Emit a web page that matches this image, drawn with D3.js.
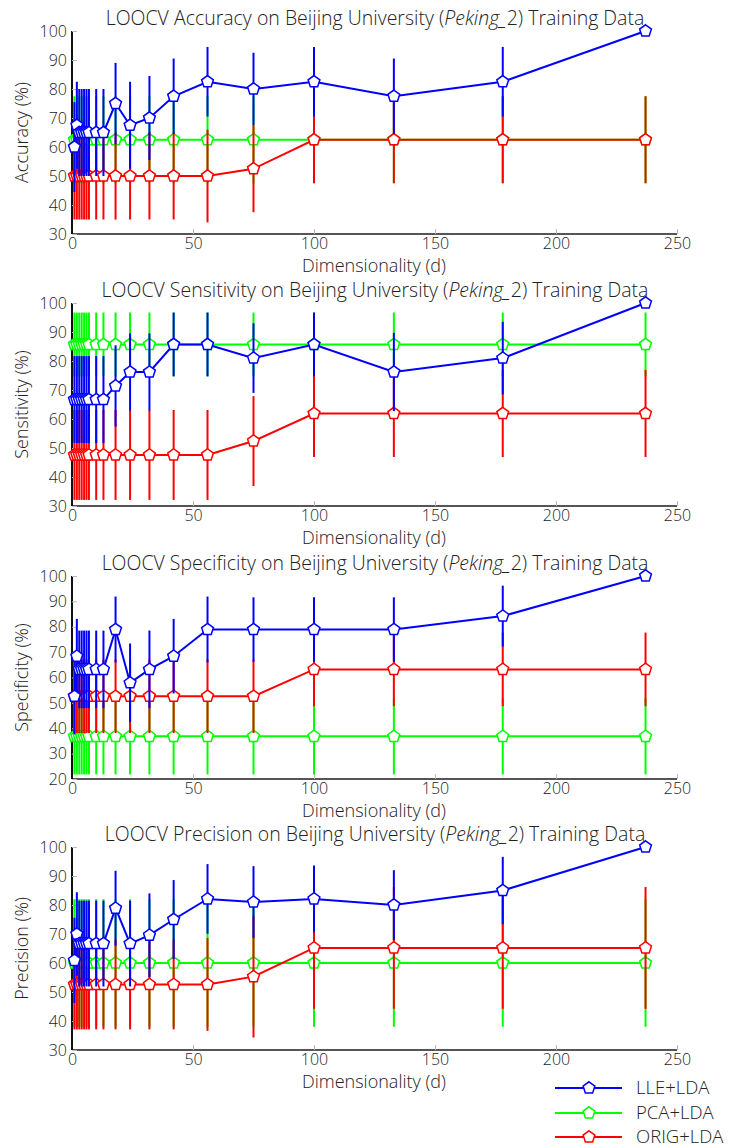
<!DOCTYPE html>
<html><head><meta charset="utf-8">
<script src="https://cdn.jsdelivr.net/npm/d3@7"></script>
<style>
body{margin:0;background:#fff;}
svg{display:block;font-family:"Open Sans","DejaVu Sans",sans-serif;}
</style></head><body>
<svg id="c" width="751" height="1148"></svg>
<script>
// ---------- data ----------
const dims = [1,2,3,4,5,6,7,10,13,18,24,32,42,56,75,100,133,178,237];
const xTicks = [0,50,100,150,200,250];
const seriesNames = ["LLE+LDA","PCA+LDA","ORIG+LDA"];

const accLLE   = [60,67.5,65,65,65,65,65,65,65,75,67.5,70,77.5,82.5,80,82.5,77.5,82.5,100];
const accLLEsd = [15.5,15,15,15,15,15,15,15,15,14,15,14.5,13,12,12.5,12,13,12,0];
const accPCA   = [62.5,62.5,62.5,62.5,62.5,62.5,62.5,62.5,62.5,62.5,62.5,62.5,62.5,62.5,62.5,62.5,62.5,62.5,62.5];
const accPCAsd = [15,15,15,15,15,15,15,15,15,15,15,15,15,15,15,15,15,15,15];
const accORIG  = [50,50,50,50,50,50,50,50,50,50,50,50,50,50,52.5,62.5,62.5,62.5,62.5];
const accORIGsd= [15,15,15,15,15,15,15,15,15,15,15,15,15,16,15,15,15,15,15];

const senLLE   = [66.7,66.7,66.7,66.7,66.7,66.7,66.7,66.7,66.7,71.4,76.2,76.2,85.7,85.7,81.0,85.7,76.2,81.0,100];
const senLLEsd = [15,15,15,15,15,15,15,15,15,14,13.3,13.3,11,11,12,11,13.5,12.5,0];
const senPCA   = [85.7,85.7,85.7,85.7,85.7,85.7,85.7,85.7,85.7,85.7,85.7,85.7,85.7,85.7,85.7,85.7,85.7,85.7,85.7];
const senPCAsd = [11,11,11,11,11,11,11,11,11,11,11,11,11,11,11,11,11,11,11];
const senORIG  = [47.6,47.6,47.6,47.6,47.6,47.6,47.6,47.6,47.6,47.6,47.6,47.6,47.6,47.6,52.4,61.9,61.9,61.9,61.9];
const senORIGsd= [15.5,15.5,15.5,15.5,15.5,15.5,15.5,15.5,15.5,15.5,15.5,15.5,15.5,15.5,15.5,15,15,15,15];

const speLLE   = [52.6,68.4,63.2,63.2,63.2,63.2,63.2,63.2,63.2,78.9,57.9,63.2,68.4,78.9,78.9,78.9,78.9,84.2,100];
const speLLEsd = [15,14.7,15.3,15.3,15.3,15.3,15.3,15.3,15.3,13,15.5,15.3,14.7,13,12.7,12.7,12.7,12,0];
const spePCA   = [36.8,36.8,36.8,36.8,36.8,36.8,36.8,36.8,36.8,36.8,36.8,36.8,36.8,36.8,36.8,36.8,36.8,36.8,36.8];
const spePCAsd = [15,15,15,15,15,15,15,15,15,15,15,15,15,15,15,15,15,15,15];
const speORIG  = [52.6,52.6,52.6,52.6,52.6,52.6,52.6,52.6,52.6,52.6,52.6,52.6,52.6,52.6,52.6,63.2,63.2,63.2,63.2];
const speORIGsd= [14.5,14.5,14.5,14.5,14.5,14.5,14.5,14.5,14.5,14.5,14.5,14.5,14.5,14.5,14.5,14.5,14.5,14.5,14.5];

const preLLE   = [60.9,70.0,66.7,66.7,66.7,66.7,66.7,66.7,66.7,78.9,66.7,69.6,75.0,82.1,81.0,82.1,80.0,85.0,100];
const preLLEsd = [14.7,14.4,14.8,14.8,14.8,14.8,14.8,14.8,14.8,12.9,14.8,14.4,13.6,12,12.4,11.5,12,11.6,0];
const prePCA   = [60,60,60,60,60,60,60,60,60,60,60,60,60,60,60,60,60,60,60];
const prePCAsd = [22,22,22,22,22,22,22,22,22,22,22,22,22,22,22,22,22,22,22];
const preORIG  = [52.6,52.6,52.6,52.6,52.6,52.6,52.6,52.6,52.6,52.6,52.6,52.6,52.6,52.6,55.3,65.2,65.2,65.2,65.2];
const preORIGsd= [15.5,15.5,15.5,15.5,15.5,15.5,15.5,15.5,15.5,15.5,15.5,15.5,15.5,16,21,21,21,21,21];

const yTicksA = [30,40,50,60,70,80,90,100];
const yTicksS = [20,30,40,50,60,70,80,90,100];

const metrics = [
  {name:"Accuracy",    ylabel:"Accuracy (%)",    yTicks:yTicksA, lle:accLLE, lleSd:accLLEsd, pca:accPCA, pcaSd:accPCAsd, orig:accORIG, origSd:accORIGsd},
  {name:"Sensitivity", ylabel:"Sensitivity (%)", yTicks:yTicksA, lle:senLLE, lleSd:senLLEsd, pca:senPCA, pcaSd:senPCAsd, orig:senORIG, origSd:senORIGsd},
  {name:"Specificity", ylabel:"Specificity (%)", yTicks:yTicksS, lle:speLLE, lleSd:speLLEsd, pca:spePCA, pcaSd:spePCAsd, orig:speORIG, origSd:speORIGsd},
  {name:"Precision",   ylabel:"Precision (%)",   yTicks:yTicksA, lle:preLLE, lleSd:preLLEsd, pca:prePCA, pcaSd:prePCAsd, orig:preORIG, origSd:preORIGsd}
];

// ---------- layout ----------
const colors = {lle:"#0000ff", pca:"#00ff00", orig:"#ff0000"};
const panelTops = [31, 303, 576, 847];
const panelH = 203;
const xLeft = 72, xRight = 677;
const font = '"Open Sans","DejaVu Sans",sans-serif';

const svg = d3.select("#c");
const x = d3.scaleLinear().domain([0,250]).range([xLeft,xRight]);

function pentagon(r){
  const pts = d3.range(5).map(k=>{
    const a = -Math.PI/2 + k*2*Math.PI/5;
    return [r*Math.cos(a), r*Math.sin(a)];
  });
  return "M"+pts.map(p=>p.join(",")).join("L")+"Z";
}
const pent = pentagon(6.2);

metrics.forEach((m,i)=>{
  const top = panelTops[i], bot = top+panelH;
  const y = d3.scaleLinear().domain(d3.extent(m.yTicks)).range([bot,top]);
  const g = svg.append("g");

  // title
  const t = g.append("text").attr("x",375).attr("y",top-6).attr("text-anchor","middle")
    .attr("font-size",19.5).attr("font-weight",300).attr("fill","#222");
  t.append("tspan").text(`LOOCV ${m.name} on Beijing University (`);
  t.append("tspan").attr("font-style","italic").text("Peking_");
  t.append("tspan").text("2) Training Data");

  // axes
  const xa = d3.axisBottom(x).tickValues(xTicks).tickSize(-5).tickPadding(4).tickFormat(d3.format("d"));
  const gx = g.append("g").attr("transform",`translate(0,${bot})`).call(xa);
  gx.select(".domain").attr("stroke","#555").attr("stroke-width",2).attr("d",`M${xLeft},0H${xRight}`);
  gx.selectAll(".tick line").attr("stroke","#bbb").attr("stroke-width",1);
  gx.selectAll(".tick text").attr("font-size",16).attr("font-family",font).attr("font-weight",300).attr("fill","#222");

  const ya = d3.axisLeft(y).tickValues(m.yTicks).tickSize(-5).tickPadding(5).tickFormat(d3.format("d"));
  const gy = g.append("g").attr("transform",`translate(${xLeft},0)`).call(ya);
  gy.select(".domain").attr("stroke","#111").attr("stroke-width",2).attr("d",`M0,${top}V${bot}`);
  gy.selectAll(".tick line").attr("stroke","#bbb").attr("stroke-width",1);
  gy.selectAll(".tick text").attr("font-size",16).attr("font-family",font).attr("font-weight",300).attr("fill","#222");

  g.append("text").attr("x",374).attr("y",bot+38).attr("text-anchor","middle")
    .attr("font-size",18).attr("font-weight",300).attr("fill","#222").text("Dimensionality (d)");
  g.append("text").attr("transform",`translate(28,${(top+bot)/2}) rotate(-90)`).attr("text-anchor","middle")
    .attr("font-size",18).attr("font-weight",300).attr("fill","#222").text(m.ylabel);

  // series: drawn PCA, ORIG, LLE
  const order = [["pca",m.pca,m.pcaSd],["orig",m.orig,m.origSd],["lle",m.lle,m.lleSd]];
  order.forEach(([key,vals,sds])=>{
    const c = colors[key];
    const sg = g.append("g");
    sg.selectAll("line.eb").data(dims.map((d,j)=>({d,v:vals[j],s:sds[j]})).filter(o=>o.s>0))
      .join("line").attr("class","eb")
      .attr("x1",o=>x(o.d)).attr("x2",o=>x(o.d))
      .attr("y1",o=>y(Math.max(o.v-o.s,y.domain()[0]))).attr("y2",o=>y(Math.min(o.v+o.s,y.domain()[1])))
      .attr("stroke",c).attr("stroke-width",2);
    const line = d3.line().x((d,j)=>x(dims[j])).y(v=>y(v));
    sg.append("path").attr("d",line(vals)).attr("fill","none").attr("stroke",c).attr("stroke-width",2);
    sg.selectAll("path.mk").data(vals).join("path").attr("class","mk")
      .attr("d",pent).attr("transform",(v,j)=>`translate(${x(dims[j])},${y(v)})`)
      .attr("fill","#fff").attr("stroke",c).attr("stroke-width",1.5);
  });
});

// legend
const legY = [1088,1113,1137];
const legKeys = ["lle","pca","orig"];
legKeys.forEach((k,i)=>{
  const lg = svg.append("g").attr("transform",`translate(0,${legY[i]})`);
  lg.append("line").attr("x1",555).attr("x2",622).attr("y1",0).attr("y2",0).attr("stroke",colors[k]).attr("stroke-width",2);
  lg.append("path").attr("d",pent).attr("transform","translate(589,0)").attr("fill","#fff").attr("stroke",colors[k]).attr("stroke-width",1.5);
  lg.append("text").attr("x",636).attr("y",6).attr("font-size",18.5).attr("font-weight",300).attr("fill","#222").text(seriesNames[i]);
});
</script>
</body></html>
